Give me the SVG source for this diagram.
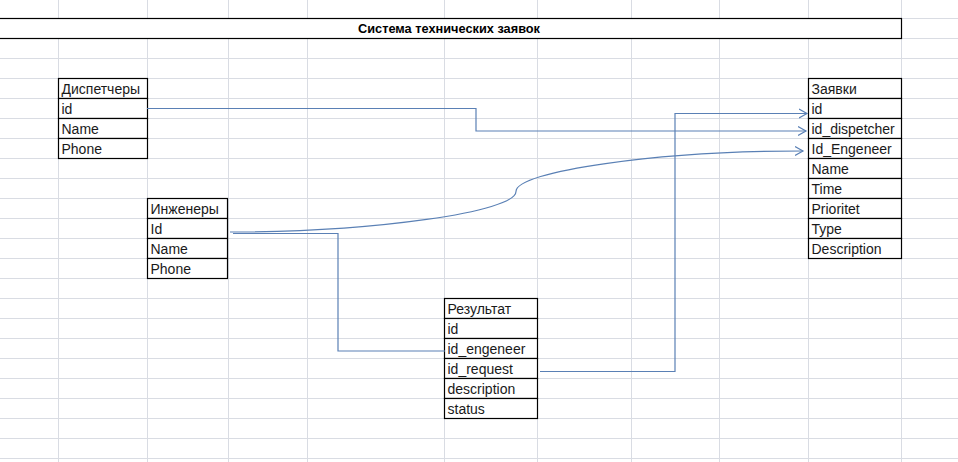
<svg xmlns="http://www.w3.org/2000/svg" width="958" height="462" viewBox="0 0 958 462">
<style>
.grid line{stroke:#d9dce3;stroke-width:1}
.cell{fill:#ffffff;stroke:#000000;stroke-width:1.2}
.t{font-family:"Liberation Sans",Arial,sans-serif;font-size:14px;fill:#1a1a1a}
.title{font-family:"Liberation Sans",Arial,sans-serif;font-size:13px;font-weight:bold;fill:#000000}
.conn path{fill:none;stroke:#5a80b5;stroke-width:1.2}
</style>
<defs>
<marker id="arr" markerUnits="userSpaceOnUse" markerWidth="12" markerHeight="12" refX="8" refY="5" orient="auto" viewBox="0 0 12 10">
<path d="M0,0.5 L8,5 L0,9.5" fill="none" stroke="#5a80b5" stroke-width="1.2"/>
</marker>
</defs>
<rect x="0" y="0" width="958" height="462" fill="#ffffff"/>
<g class="grid">
<line x1="0" y1="18.5" x2="958" y2="18.5"/><line x1="0" y1="38.5" x2="958" y2="38.5"/>
<line x1="0" y1="58.5" x2="958" y2="58.5"/><line x1="0" y1="78.5" x2="958" y2="78.5"/>
<line x1="0" y1="98.5" x2="958" y2="98.5"/><line x1="0" y1="118.5" x2="958" y2="118.5"/>
<line x1="0" y1="138.5" x2="958" y2="138.5"/><line x1="0" y1="158.5" x2="958" y2="158.5"/>
<line x1="0" y1="178.5" x2="958" y2="178.5"/><line x1="0" y1="198.5" x2="958" y2="198.5"/>
<line x1="0" y1="218.5" x2="958" y2="218.5"/><line x1="0" y1="238.5" x2="958" y2="238.5"/>
<line x1="0" y1="258.5" x2="958" y2="258.5"/><line x1="0" y1="278.5" x2="958" y2="278.5"/>
<line x1="0" y1="298.5" x2="958" y2="298.5"/><line x1="0" y1="318.5" x2="958" y2="318.5"/>
<line x1="0" y1="338.5" x2="958" y2="338.5"/><line x1="0" y1="358.5" x2="958" y2="358.5"/>
<line x1="0" y1="378.5" x2="958" y2="378.5"/><line x1="0" y1="398.5" x2="958" y2="398.5"/>
<line x1="0" y1="418.5" x2="958" y2="418.5"/><line x1="0" y1="438.5" x2="958" y2="438.5"/>
<line x1="0" y1="458.5" x2="958" y2="458.5"/>
<line x1="58.5" y1="0" x2="58.5" y2="462"/><line x1="147.5" y1="0" x2="147.5" y2="462"/>
<line x1="228.5" y1="0" x2="228.5" y2="462"/><line x1="307.5" y1="0" x2="307.5" y2="462"/>
<line x1="444.5" y1="0" x2="444.5" y2="462"/><line x1="537.5" y1="0" x2="537.5" y2="462"/>
<line x1="631.5" y1="0" x2="631.5" y2="462"/><line x1="719.5" y1="0" x2="719.5" y2="462"/>
<line x1="808.5" y1="0" x2="808.5" y2="462"/><line x1="901.5" y1="0" x2="901.5" y2="462"/>
</g>
<g id="title">
<rect x="-2" y="18.5" width="903.5" height="20" class="cell"/>
<text x="449" y="33" class="title" text-anchor="middle" textLength="182" lengthAdjust="spacingAndGlyphs">Система технических заявок</text>
</g>
<g id="dispatchers">
<rect x="58.5" y="78.5" width="89" height="20" class="cell"/>
<rect x="58.5" y="98.5" width="89" height="20" class="cell"/>
<rect x="58.5" y="118.5" width="89" height="20" class="cell"/>
<rect x="58.5" y="138.5" width="89" height="20" class="cell"/>
<text x="61.5" y="94" class="t">Диспетчеры</text>
<text x="61.5" y="114" class="t">id</text>
<text x="61.5" y="134" class="t">Name</text>
<text x="61.5" y="154" class="t">Phone</text>
</g>
<g id="engineers">
<rect x="147.5" y="198.5" width="80" height="20" class="cell"/>
<rect x="147.5" y="218.5" width="80" height="20" class="cell"/>
<rect x="147.5" y="238.5" width="80" height="20" class="cell"/>
<rect x="147.5" y="258.5" width="80" height="20" class="cell"/>
<text x="150.5" y="214" class="t">Инженеры</text>
<text x="150.5" y="234" class="t">Id</text>
<text x="150.5" y="254" class="t">Name</text>
<text x="150.5" y="274" class="t">Phone</text>
</g>
<g id="results">
<rect x="444.5" y="298.5" width="93" height="20" class="cell"/>
<rect x="444.5" y="318.5" width="93" height="20" class="cell"/>
<rect x="444.5" y="338.5" width="93" height="20" class="cell"/>
<rect x="444.5" y="358.5" width="93" height="20" class="cell"/>
<rect x="444.5" y="378.5" width="93" height="20" class="cell"/>
<rect x="444.5" y="398.5" width="93" height="20" class="cell"/>
<text x="447.5" y="314" class="t">Результат</text>
<text x="447.5" y="334" class="t">id</text>
<text x="447.5" y="354" class="t">id_engeneer</text>
<text x="447.5" y="374" class="t">id_request</text>
<text x="447.5" y="394" class="t">description</text>
<text x="447.5" y="414" class="t">status</text>
</g>
<g id="requests">
<rect x="808.5" y="78.5" width="93" height="20" class="cell"/>
<rect x="808.5" y="98.5" width="93" height="20" class="cell"/>
<rect x="808.5" y="118.5" width="93" height="20" class="cell"/>
<rect x="808.5" y="138.5" width="93" height="20" class="cell"/>
<rect x="808.5" y="158.5" width="93" height="20" class="cell"/>
<rect x="808.5" y="178.5" width="93" height="20" class="cell"/>
<rect x="808.5" y="198.5" width="93" height="20" class="cell"/>
<rect x="808.5" y="218.5" width="93" height="20" class="cell"/>
<rect x="808.5" y="238.5" width="93" height="20" class="cell"/>
<text x="811.5" y="94" class="t">Заявки</text>
<text x="811.5" y="114" class="t">id</text>
<text x="811.5" y="134" class="t">id_dispetcher</text>
<text x="811.5" y="154" class="t">Id_Engeneer</text>
<text x="811.5" y="174" class="t">Name</text>
<text x="811.5" y="194" class="t">Time</text>
<text x="811.5" y="214" class="t">Prioritet</text>
<text x="811.5" y="234" class="t">Type</text>
<text x="811.5" y="254" class="t">Description</text>
</g>
<g class="conn">
<path d="M147,108.5 H476 V131 H806" marker-end="url(#arr)"/>
<path d="M540,371.5 H675 V113.5 H807" marker-end="url(#arr)"/>
<path d="M230,232 C373,232 516,212 516,191.5 C516,171 659,151 803,151" marker-end="url(#arr)"/>
<path d="M233,233.5 H338 V351 H445"/>
</g>
</svg>
